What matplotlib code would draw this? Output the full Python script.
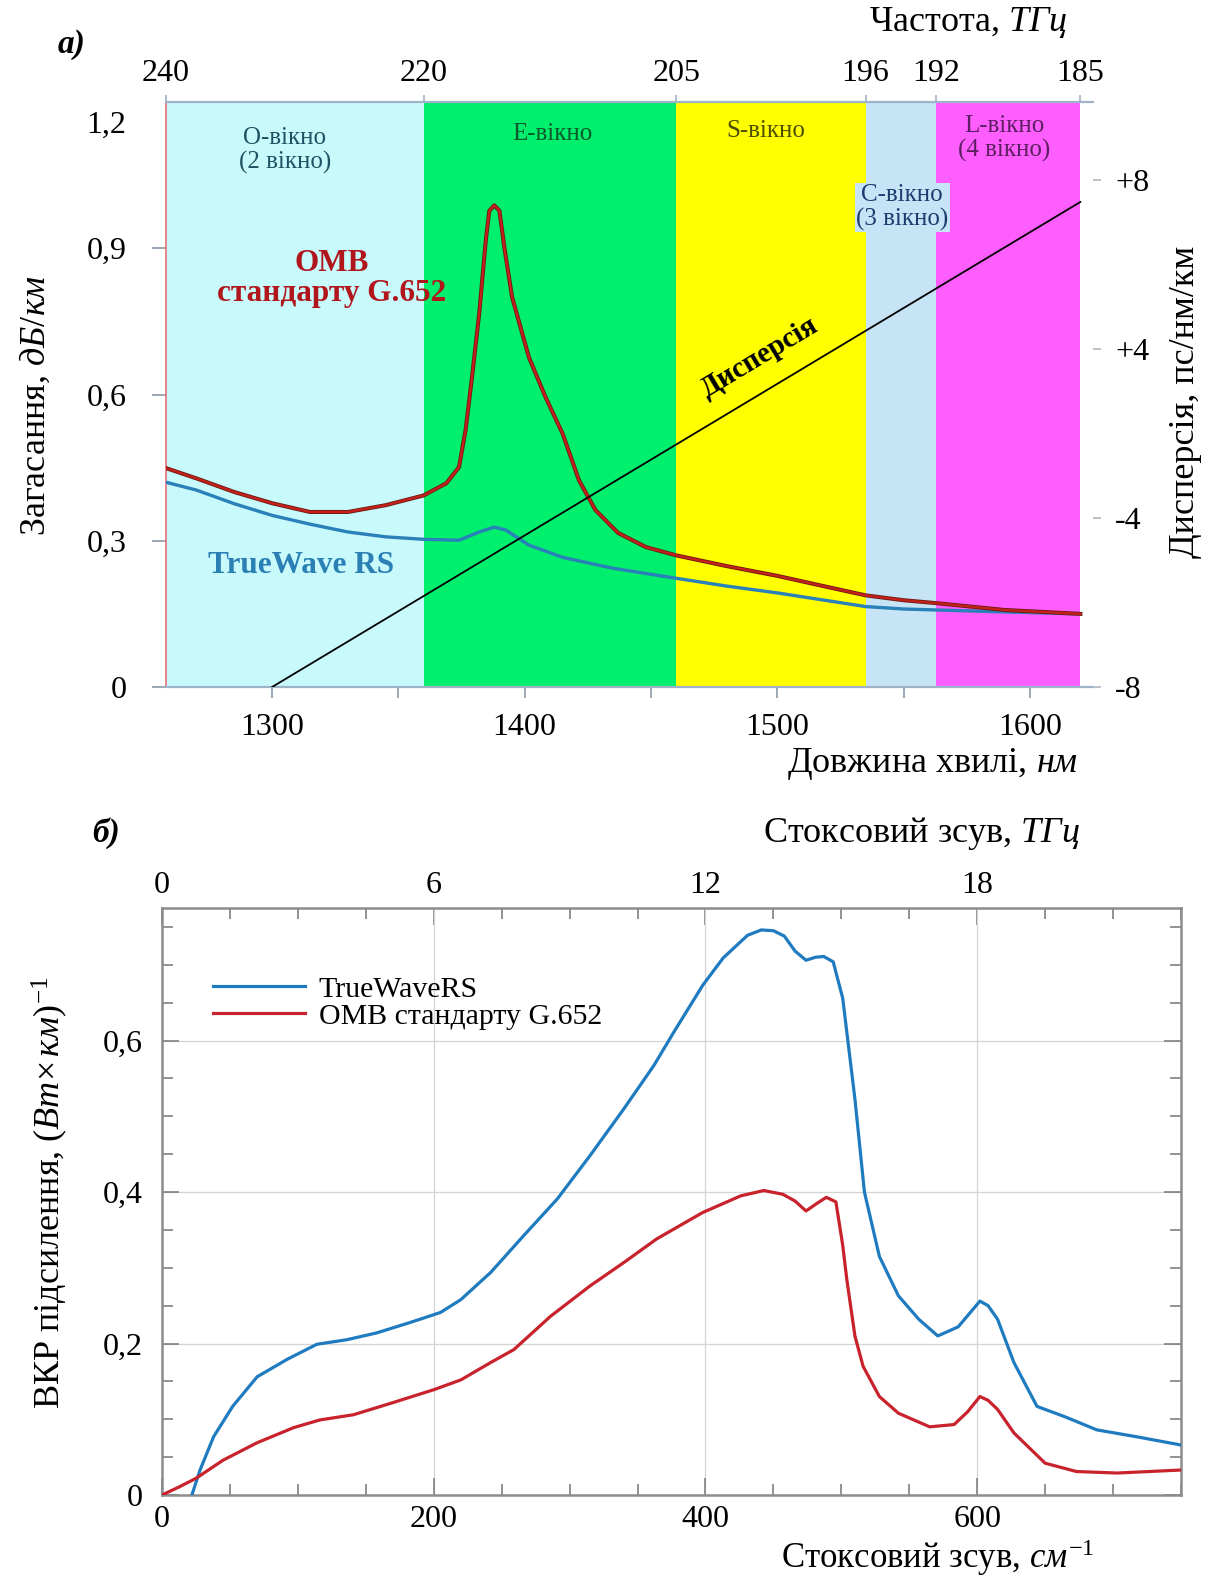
import matplotlib
matplotlib.use("Agg")
import matplotlib.pyplot as plt
import matplotlib.patheffects as pe
from matplotlib.ticker import FixedLocator, MultipleLocator

plt.rcParams['font.family'] = ['Liberation Serif', 'DejaVu Serif']
plt.rcParams['mathtext.fontset'] = 'custom'
plt.rcParams['mathtext.rm'] = 'Liberation Serif'
plt.rcParams['mathtext.it'] = 'Liberation Serif:italic'

# ---- panel a) : attenuation vs wavelength ----
band_edges = [1258, 1360, 1460, 1535, 1563, 1620]
band_colors = ['#c8fafc', '#00ef6c', '#ffff00', '#c6e4f6', '#ff5eff']
freq_labels = ['240', '220', '205', '196', '192', '185']
band_names = ['O-вікно\n(2 вікно)', 'E-вікно', 'S-вікно', 'C-вікно\n(3 вікно)', 'L-вікно\n(4 вікно)']
band_label_wl = [1305, 1411, 1495.5, 1549.5, 1590]
band_label_att = [1.10, 1.135, 1.141, 0.984, 1.125]
band_text_colors = ['#1e5262', '#0b5a2c', '#4e4e00', '#1c3c70', '#5e1e62']

wl_g652 = [1258, 1270, 1285, 1300, 1315, 1330, 1345, 1360, 1369, 1374, 1376.6, 1379,
           1382, 1384.6, 1386, 1388, 1390, 1392, 1395, 1401.7, 1408.3, 1415, 1421.5,
           1428, 1437, 1448, 1460, 1480, 1500, 1520, 1535, 1550, 1563, 1590, 1620]
att_g652 = [0.449, 0.428, 0.40, 0.377, 0.359, 0.359, 0.373, 0.393, 0.418, 0.451, 0.527, 0.629,
            0.766, 0.916, 0.977, 0.988, 0.977, 0.90, 0.80, 0.676, 0.594, 0.52, 0.424,
            0.363, 0.316, 0.287, 0.27, 0.248, 0.228, 0.205, 0.188, 0.178, 0.172, 0.158, 0.15]

wl_tw = [1258, 1270, 1285, 1300, 1315, 1330, 1345, 1360, 1374, 1382, 1388, 1392.5,
         1401.7, 1415, 1434.5, 1460, 1480, 1500, 1520, 1535, 1550, 1563, 1590, 1620]
att_tw = [0.42, 0.404, 0.376, 0.352, 0.334, 0.318, 0.308, 0.303, 0.301, 0.318, 0.328, 0.322,
          0.291, 0.266, 0.244, 0.223, 0.207, 0.193, 0.177, 0.165, 0.16, 0.158, 0.154, 0.15]

# dispersion line, in right-axis tick-position units
disp_wl = [1300, 1620]
disp_pos = [0.0, 2.87]
disp_ticks = [0, 1, 2, 3]
disp_labels = ['-8', '-4', '+4', '+8']

# ---- panel б) : Raman gain vs Stokes shift ----
shift_tw = [22, 28, 38, 52, 70, 92, 114, 136, 158, 183, 205, 220, 242, 266, 291, 315, 340,
            362, 377, 398, 413, 431, 441, 450, 458, 466, 474, 481, 487, 494, 501, 510, 517,
            528, 542, 557, 571, 586, 602, 608, 615, 627, 644, 665, 688, 717, 750]
gain_tw = [0.0, 0.033, 0.077, 0.117, 0.156, 0.179, 0.199, 0.205, 0.214, 0.228, 0.241, 0.258,
           0.294, 0.342, 0.391, 0.448, 0.51, 0.567, 0.612, 0.673, 0.709, 0.739, 0.746, 0.745,
           0.738, 0.718, 0.706, 0.710, 0.711, 0.704, 0.656, 0.523, 0.40, 0.315, 0.263, 0.232,
           0.21, 0.222, 0.256, 0.25, 0.232, 0.175, 0.117, 0.103, 0.086, 0.077, 0.066]

shift_g652 = [0, 13, 25, 45, 70, 97, 116, 141, 170, 200, 220, 242, 259, 286, 315, 340, 364,
              398, 426, 443, 457, 466, 474, 482, 489, 496, 501, 504, 510, 516, 528, 542, 565,
              583, 593, 602, 608, 615, 627, 650, 673, 703, 750]
gain_g652 = [0, 0.011, 0.022, 0.046, 0.069, 0.089, 0.099, 0.106, 0.122, 0.139, 0.152, 0.175,
             0.192, 0.236, 0.276, 0.307, 0.338, 0.373, 0.395, 0.402, 0.397, 0.388, 0.375, 0.385,
             0.393, 0.387, 0.33, 0.285, 0.21, 0.17, 0.13, 0.108, 0.09, 0.093, 0.11, 0.13, 0.125,
             0.113, 0.082, 0.042, 0.031, 0.029, 0.033]

W, H = 1217, 1577
TICK_FS = 23
LABEL_FS = 26


def px(x, y):
    return x / W, 1 - y / H


def main():
    fig = plt.figure(figsize=(W / 100, H / 100), dpi=100)

    # ---------- a) ----------
    ax1 = fig.add_axes([166 / W, 1 - 687 / H, 927 / W, 585 / H])
    ax1.set_xlim(1258, 1625)
    ax1.set_ylim(0, 1.2)
    for lo, hi, c in zip(band_edges[:-1], band_edges[1:], band_colors):
        ax1.axvspan(lo, hi, color=c, lw=0, zorder=0)

    for name, x, y, c in zip(band_names, band_label_wl, band_label_att, band_text_colors):
        kw = {}
        if name.startswith('C'):
            kw['bbox'] = dict(facecolor=band_colors[3], edgecolor='none', pad=1)
        ax1.text(x, y, name, ha='center', va='center', fontsize=18, color=c,
                 linespacing=1.1, zorder=2, **kw)

    ax1.plot(wl_tw, att_tw, color='#2a80b8', lw=2.4, zorder=3)
    ax1.plot(wl_g652, att_g652, color='#c4201c', lw=1.7, zorder=4,
             path_effects=[pe.Stroke(linewidth=2.9, foreground='#6a1a10'), pe.Normal()])

    ax1.text(1323.7, 0.838, 'ОМВ\nстандарту G.652', ha='center', va='center', fontsize=22.5,
             fontweight='bold', color='#b0161c', linespacing=1.05, zorder=5)
    ax1.text(1311.5, 0.25, 'TrueWave RS', ha='center', va='center', fontsize=22.5,
             fontweight='bold', color='#2a7fb5', zorder=5)

    ax1.spines['right'].set_visible(False)
    ax1.spines['left'].set_color('#e8707c')
    ax1.spines['left'].set_linewidth(1.2)
    for s in ['top', 'bottom']:
        ax1.spines[s].set_color('#9fb3c8')
        ax1.spines[s].set_linewidth(1.6)

    ax1.set_yticks([0, 0.3, 0.6, 0.9], labels=['0', '0,3', '0,6', '0,9'])
    ax1.tick_params(axis='y', direction='out', length=10, width=1.2, color='#8a9aa8',
                    labelsize=TICK_FS, pad=18)
    ax1.text(-0.043, 1.153, '1,2', transform=ax1.get_yaxis_transform(), ha='right',
             va='center', fontsize=TICK_FS)
    ax1.xaxis.set_major_locator(FixedLocator([1300, 1400, 1500, 1600]))
    ax1.xaxis.set_minor_locator(FixedLocator([1350, 1450, 1550]))
    ax1.tick_params(axis='x', which='both', direction='out', length=8, width=1.2,
                    color='#8a9aa8', labelsize=TICK_FS, pad=11)

    sec = ax1.secondary_xaxis('top')
    sec.set_xticks(band_edges, labels=freq_labels)
    sec.tick_params(direction='out', length=5, width=1.2, color='#9fb3c8',
                    labelsize=TICK_FS, pad=5)
    sec.spines['top'].set_visible(False)

    ax1r = ax1.twinx()
    ax1r.set_ylim(0, 585 / 169)
    ax1r.plot(disp_wl, disp_pos, color='black', lw=1.3, zorder=6)
    ax1r.set_yticks(disp_ticks, labels=disp_labels)
    ax1r.tick_params(axis='y', direction='out', length=6, width=1.2, color='#b0b8c0',
                     labelsize=TICK_FS, pad=10)
    for s in ax1r.spines.values():
        s.set_visible(False)
    ax1.text(1493, 0.676, 'Дисперсія', rotation=31, rotation_mode='anchor', ha='center',
             va='center', fontsize=21, fontweight='bold', zorder=6)

    fig.text(*px(35, 405), 'Загасання, $\\mathit{дБ/км}$', rotation=90, ha='center',
             va='center', fontsize=LABEL_FS)
    fig.text(*px(1185, 402), 'Дисперсія, пс/нм/км', rotation=90, ha='center',
             va='center', fontsize=LABEL_FS)
    fig.text(*px(968, 22), 'Частота, $\\mathit{ТГц}$', ha='center', va='center',
             fontsize=LABEL_FS)
    fig.text(*px(1078, 764), 'Довжина хвилі, $\\mathit{нм}$', ha='right', va='center',
             fontsize=LABEL_FS)
    fig.text(*px(72, 45), 'а)', ha='center', va='center', fontsize=24,
             fontweight='bold', fontstyle='italic')

    # ---------- б) ----------
    ax2 = fig.add_axes([162 / W, 1 - 1495 / H, 1019 / W, 587 / H])
    ax2.set_xlim(0, 750)
    ax2.set_ylim(0, 0.775)
    ax2.grid(which='major', color='#d4d4d4', lw=0.9, zorder=0)
    ax2.plot(shift_tw, gain_tw, color='#1f7bbf', lw=2.3, label='TrueWaveRS', zorder=3)
    ax2.plot(shift_g652, gain_g652, color='#c8232c', lw=2.3, label='ОМВ стандарту G.652',
             zorder=3)

    ax2.set_xticks([0, 200, 400, 600])
    ax2.xaxis.set_minor_locator(MultipleLocator(50))
    ax2.set_yticks([0, 0.2, 0.4, 0.6], labels=['0', '0,2', '0,4', '0,6'])
    ax2.yaxis.set_minor_locator(MultipleLocator(0.05))
    ax2.tick_params(which='both', direction='in', right=True, top=False, color='#808080',
                    width=1.2, labelsize=TICK_FS)
    ax2.tick_params(which='major', length=12)
    ax2.tick_params(which='minor', length=8)
    ax2.tick_params(axis='x', pad=7)
    ax2.tick_params(axis='y', pad=14)
    for s in ax2.spines.values():
        s.set_color('#8c8c8c')
        s.set_linewidth(1.8)

    sec2 = ax2.secondary_xaxis('top', functions=(lambda x: x * 0.03, lambda x: x / 0.03))
    sec2.set_xticks([0, 6, 12, 18])
    sec2.xaxis.set_minor_locator(MultipleLocator(1.5))
    sec2.tick_params(which='both', direction='in', color='#808080', width=1.2,
                     labelsize=TICK_FS, pad=6)
    sec2.tick_params(which='major', length=12)
    sec2.tick_params(which='minor', length=8)
    sec2.spines['top'].set_visible(False)

    ax2.legend(loc='upper left', bbox_to_anchor=(0.038, 0.905), frameon=False, fontsize=21.5,
               handlelength=3.1, handletextpad=0.45, labelspacing=0.0, borderaxespad=0)

    fig.text(*px(50, 1193), 'ВКР підсилення, $(\\mathit{Вт}{\\times}\\,\\mathit{км})^{-1}$',
             rotation=90, ha='center', va='center', fontsize=LABEL_FS)
    fig.text(*px(922, 833), 'Стоксовий зсув, $\\mathit{ТГц}$', ha='center', va='center',
             fontsize=LABEL_FS)
    fig.text(*px(1094, 1558), 'Стоксовий зсув, $\\mathit{см}^{-1}$', ha='right', va='center',
             fontsize=25)
    fig.text(*px(106, 833), 'б)', ha='center', va='center', fontsize=24,
             fontweight='bold', fontstyle='italic')

    fig.savefig('out.png', dpi=100)


if __name__ == '__main__':
    main()
